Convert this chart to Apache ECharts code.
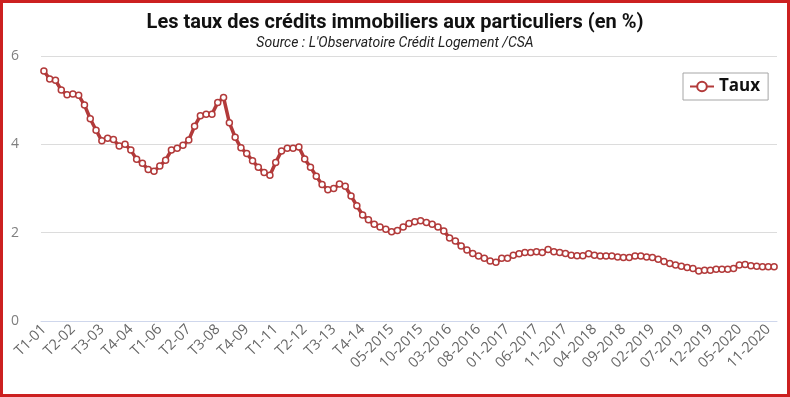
<!DOCTYPE html>
<html>
<head>
<meta charset="utf-8">
<script src="https://cdn.jsdelivr.net/npm/echarts@6/dist/echarts.min.js"></script>
<style>
  html, body { margin: 0; padding: 0; background: #fff; }
  #chart { width: 790px; height: 397px; }
</style>
</head>
<body>
<div id="chart"></div>
<script>
// Périodes : trimestrielles jusqu'à fin 2014, puis mensuelles
const trimestres = [
  'T1-01','T2-01','T3-01','T4-01','T1-02','T2-02','T3-02','T4-02',
  'T1-03','T2-03','T3-03','T4-03','T1-04','T2-04','T3-04','T4-04',
  'T1-05','T2-05','T3-05','T4-05','T1-06','T2-06','T3-06','T4-06',
  'T1-07','T2-07','T3-07','T4-07','T1-08','T2-08','T3-08','T4-08',
  'T1-09','T2-09','T3-09','T4-09','T1-10','T2-10','T3-10','T4-10',
  'T1-11','T2-11','T3-11','T4-11','T1-12','T2-12','T3-12','T4-12',
  'T1-13','T2-13','T3-13','T4-13','T1-14','T2-14','T3-14','T4-14'
];
const mois = [
  '01-2015','02-2015','03-2015','04-2015','05-2015','06-2015','07-2015','08-2015','09-2015','10-2015','11-2015','12-2015',
  '01-2016','02-2016','03-2016','04-2016','05-2016','06-2016','07-2016','08-2016','09-2016','10-2016','11-2016','12-2016',
  '01-2017','02-2017','03-2017','04-2017','05-2017','06-2017','07-2017','08-2017','09-2017','10-2017','11-2017','12-2017',
  '01-2018','02-2018','03-2018','04-2018','05-2018','06-2018','07-2018','08-2018','09-2018','10-2018','11-2018','12-2018',
  '01-2019','02-2019','03-2019','04-2019','05-2019','06-2019','07-2019','08-2019','09-2019','10-2019','11-2019','12-2019',
  '01-2020','02-2020','03-2020','04-2020','05-2020','06-2020','07-2020','09-2020','10-2020','11-2020','12-2020'
];
const categories = trimestres.concat(mois);

// Taux (en %)
const tauxTrimestres = [
  5.66, 5.48, 5.45, 5.23, 5.12, 5.14, 5.11, 4.89,
  4.58, 4.32, 4.08, 4.14, 4.11, 3.96, 4.00, 3.87,
  3.66, 3.57, 3.43, 3.39, 3.51, 3.64, 3.87, 3.91,
  3.98, 4.10, 4.41, 4.65, 4.68, 4.68, 4.95, 5.06,
  4.49, 4.16, 3.92, 3.79, 3.63, 3.48, 3.36, 3.30,
  3.59, 3.85, 3.91, 3.91, 3.94, 3.67, 3.48, 3.28,
  3.09, 2.97, 3.00, 3.10, 3.05, 2.83, 2.61, 2.40
];
const tauxMois = [
  2.29, 2.19, 2.13, 2.08, 2.02, 2.05, 2.13, 2.21, 2.25, 2.27, 2.23, 2.19,
  2.13, 2.04, 1.88, 1.81, 1.70, 1.61, 1.53, 1.47, 1.42, 1.36, 1.33, 1.42,
  1.42, 1.49, 1.52, 1.55, 1.55, 1.57, 1.55, 1.62, 1.57, 1.55, 1.53, 1.49,
  1.48, 1.48, 1.52, 1.49, 1.47, 1.47, 1.47, 1.45, 1.44, 1.44, 1.47, 1.47,
  1.45, 1.44, 1.40, 1.35, 1.30, 1.27, 1.24, 1.21, 1.19, 1.13, 1.15, 1.15,
  1.17, 1.17, 1.17, 1.19, 1.27, 1.28, 1.25, 1.24, 1.23, 1.23, 1.23
];
const taux = tauxTrimestres.concat(tauxMois);

const yTicks = [0, 2, 4, 6];

const rouge = '#b23a3a';
const chart = echarts.init(document.getElementById('chart'));

chart.setOption({
  animation: false,
  title: {
    text: 'Les taux des crédits immobiliers aux particuliers (en %)',
    subtext: "Source : L'Observatoire Crédit Logement /CSA",
    left: 'center',
    top: 8,
    itemGap: 3,
    textStyle: {
      fontFamily: 'Roboto, sans-serif',
      fontSize: 20,
      fontWeight: 'bold',
      color: '#111'
    },
    subtextStyle: {
      fontFamily: 'Roboto, sans-serif',
      fontSize: 14,
      fontStyle: 'italic',
      color: '#222'
    }
  },
  legend: {
    left: 683,
    top: 73,
    padding: [5, 8, 5, 6],
    itemWidth: 24,
    itemHeight: 12,
    borderColor: '#a6a6a6',
    borderWidth: 1,
    textStyle: {
      fontFamily: 'Open Sans, sans-serif',
      fontSize: 17,
      fontWeight: 'bold',
      color: '#111'
    },
    data: ['Taux']
  },
  grid: {
    left: 41,
    right: 13,
    top: 56,
    bottom: 76
  },
  xAxis: {
    type: 'category',
    data: categories,
    boundaryGap: true,
    axisLine: { lineStyle: { color: '#cfd7ec', width: 1 } },
    axisTick: { show: false },
    axisLabel: {
      interval: 4,
      rotate: 45,
      margin: 6,
      color: '#666',
      fontSize: 14.5,
      fontFamily: 'Open Sans, sans-serif'
    }
  },
  yAxis: {
    type: 'value',
    min: yTicks[0],
    max: yTicks[yTicks.length - 1],
    interval: 2,
    axisLine: { show: false },
    axisTick: { show: false },
    splitLine: { lineStyle: { color: '#dcdcdc', width: 1 } },
    axisLabel: {
      margin: 22,
      color: '#7f7f7f',
      fontSize: 14,
      fontFamily: 'Open Sans, sans-serif'
    }
  },
  series: [
    {
      name: 'Taux',
      type: 'line',
      data: taux,
      symbol: 'circle',
      symbolSize: 6,
      showAllSymbol: true,
      lineStyle: { color: rouge, width: 3.5 },
      itemStyle: { color: '#fff', borderColor: rouge, borderWidth: 1.5 }
    }
  ],
  graphic: [
    {
      type: 'rect',
      silent: true,
      z: 100,
      shape: { x: 1.5, y: 1.5, width: 787, height: 394 },
      style: { fill: 'none', stroke: '#cc2020', lineWidth: 3 }
    }
  ]
});
</script>
</body>
</html>
